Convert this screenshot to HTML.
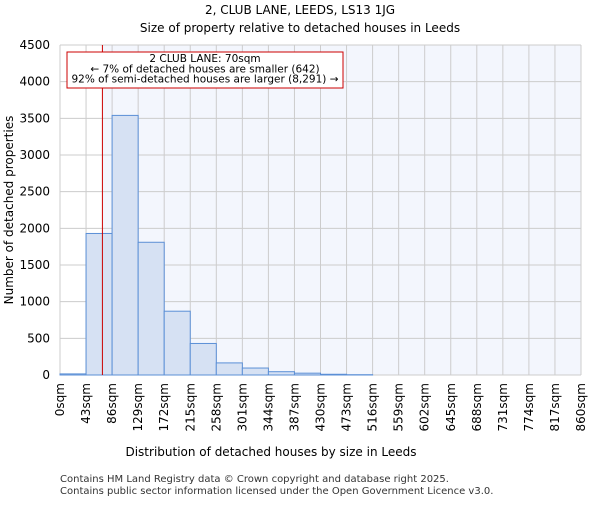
<!DOCTYPE html>
<html><head><meta charset="utf-8"><style>
body{margin:0;background:#fff}
svg{font-family:"DejaVu Sans","Liberation Sans",sans-serif}
</style></head><body>
<svg id="c" width="600" height="500" xmlns="http://www.w3.org/2000/svg">
<text x="300" y="14" text-anchor="middle" font-size="12">2, CLUB LANE, LEEDS, LS13 1JG</text>
<text x="300" y="32" text-anchor="middle" font-size="12">Size of property relative to detached houses in Leeds</text>
<g id="plot"></g>
<text x="271" y="456" text-anchor="middle" font-size="12">Distribution of detached houses by size in Leeds</text>
<text transform="translate(13,210) rotate(-90)" text-anchor="middle" font-size="12">Number of detached properties</text>
<text x="60" y="482" font-size="10" fill="#333">Contains HM Land Registry data © Crown copyright and database right 2025.</text>
<text x="60" y="494" font-size="10" fill="#333">Contains public sector information licensed under the Open Government Licence v3.0.</text>
</svg>
<script>
const binEdges=[0,43,86,129,172,215,258,301,344,387,430,473,516,559,602,645,688,731,774,817,860];
const xTickLabels=["0sqm","43sqm","86sqm","129sqm","172sqm","215sqm","258sqm","301sqm","344sqm","387sqm","430sqm","473sqm","516sqm","559sqm","602sqm","645sqm","688sqm","731sqm","774sqm","817sqm","860sqm"];
const counts=[15,1930,3540,1810,870,430,165,95,45,25,10,4,0,0,0,0,0,0,0,0];
const yTicks=[0,500,1000,1500,2000,2500,3000,3500,4000,4500];
const propertySize=70;
const ns="http://www.w3.org/2000/svg";
const L=60,R=581,T=45,B=375,xMax=860,yMax=4500;
const xs=v=>L+v/xMax*(R-L);
const ys=v=>B-v/yMax*(B-T);
const g=document.getElementById('plot');
function mk(t,a){const e=document.createElementNS(ns,t);for(const k in a)e.setAttribute(k,a[k]);g.appendChild(e);return e;}
let bg=mk('rect',{x:xs(propertySize),y:T,width:R-xs(propertySize),height:B-T,fill:'#f3f6fd'});


binEdges.forEach(v=>{const l=mk('line',{x1:xs(v),x2:xs(v),y1:T,y2:B,stroke:'#cccccc','stroke-width':1});

});
yTicks.forEach(v=>{const l=mk('line',{x1:L,x2:R,y1:ys(v),y2:ys(v),stroke:'#cccccc','stroke-width':1});


const t=mk('text',{x:L-10,y:ys(v)+4,'text-anchor':'end','font-size':12});t.textContent=v;

});
counts.forEach((c,i)=>{const x0=xs(binEdges[i]),x1=xs(binEdges[i+1]);
const r=mk('rect',{x:x0,y:ys(c),width:x1-x0,height:B-ys(c),fill:'#d6e1f3',stroke:'#5b8fd6','stroke-width':1});

});
xTickLabels.forEach((s,i)=>{const x=xs(binEdges[i]);
const t=mk('text',{transform:`translate(${x+4},${B+8}) rotate(-90)`,'text-anchor':'end','font-size':12});t.textContent=s;

});
const ml=mk('line',{x1:xs(propertySize),x2:xs(propertySize),y1:T,y2:B,stroke:'#cc0000','stroke-width':1});


const box=mk('rect',{x:67,y:52,width:276,height:36,fill:'#fff',stroke:'#cc0000','stroke-width':1});


["2 CLUB LANE: 70sqm","← 7% of detached houses are smaller (642)","92% of semi-detached houses are larger (8,291) →"].forEach((s,i)=>{
const t=mk('text',{x:205,y:62+i*10.3,'text-anchor':'middle','font-size':10.5});t.textContent=s;

});
</script>
</body></html>
